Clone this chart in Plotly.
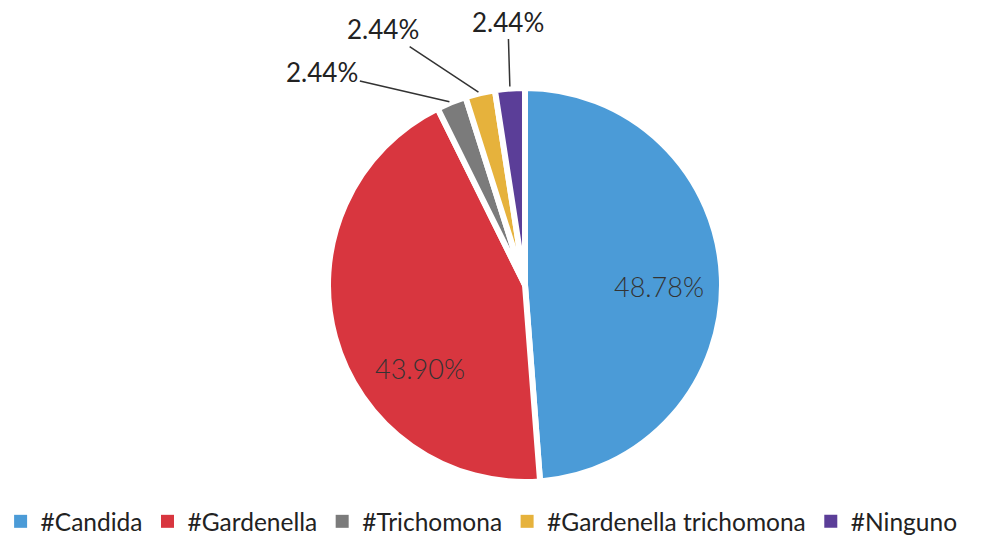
import math
import plotly.graph_objects as go

labels = ["#Candida", "#Gardenella", "#Trichomona", "#Gardenella trichomona", "#Ninguno"]
counts = [20, 18, 1, 1, 1]
colors = ["#4b9bd7", "#d8363f", "#7b7b7b", "#e6b23c", "#5b3e98"]

W, H = 992, 535
ML, MR, MT, MB = 42, 0, 80, 61

total = sum(counts)
pct = [c / total * 100 for c in counts]

fig = go.Figure(go.Pie(
    labels=labels,
    values=counts,
    sort=False,
    direction="clockwise",
    rotation=0,
    marker=dict(colors=colors, line=dict(color="white", width=6)),
    textinfo="none",
    hoverinfo="label+percent",
    showlegend=False,
))

# legend entries with plain squares (the pie's own ones get eaten by the white border)
for lab, col in zip(labels, colors):
    fig.add_trace(go.Scatter(
        x=[None], y=[None], mode="markers", name=lab,
        marker=dict(symbol="square", size=13, color=col),
    ))

# value labels: big slices inside, small slices with leader lines
pw, ph = W - ML - MR, H - MT - MB
R = min(pw, ph) / 2
outside = {2: (-129, -30), 3: (-97, -64), 4: (-2, -67)}
inside_shift = {0: (0, -7), 1: (24, -48)}
cum = 0
for i, c in enumerate(counts):
    mid = (cum + c / 2) / total * 2 * math.pi
    cum += c
    r = R if i in outside else 0.68 * R
    px_ = pw / 2 + r * math.sin(mid)
    py_ = ph / 2 - r * math.cos(mid)
    if i in outside:
        ax, ay = outside[i]
        fig.add_annotation(
            x=px_ / pw, y=1 - py_ / ph, xref="paper", yref="paper",
            text=f"{pct[i]:.2f}%", showarrow=True, arrowhead=0, arrowwidth=1.5,
            arrowcolor="#333333", ax=ax, ay=ay, standoff=2,
            font=dict(size=26, color="#222222", family="Lato"),
        )
    else:
        xs, ys = inside_shift[i]
        fig.add_annotation(
            x=px_ / pw, y=1 - py_ / ph, xref="paper", yref="paper",
            text=f"{pct[i]:.2f}%", showarrow=False, xshift=xs, yshift=ys,
            font=dict(size=27, color="#333333", family="Lato", weight=300),
        )

fig.update_layout(
    width=W, height=H,
    margin=dict(l=ML, r=MR, t=MT, b=MB, autoexpand=False),
    paper_bgcolor="white",
    plot_bgcolor="white",
    xaxis=dict(visible=False),
    yaxis=dict(visible=False),
    font=dict(family="Lato", color="#222222"),
    legend=dict(
        orientation="h", x=-0.052, xanchor="left", y=-0.1, yanchor="middle",
        font=dict(size=24.5, color="#222222"), itemclick=False,
    ),
)

fig.write_html("out.html")
